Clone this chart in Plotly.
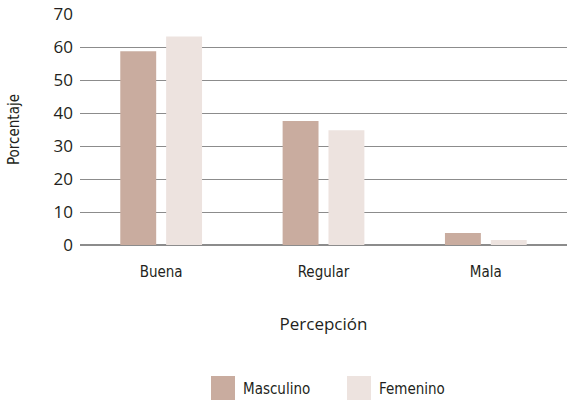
import plotly.graph_objects as go

categories = ["Buena", "Regular", "Mala"]
masculino = [58.7, 37.6, 3.6]
femenino = [63.2, 34.8, 1.5]
series_names = ["Masculino", "Femenino"]
colors = ["#C9AC9F", "#EDE3DF"]
y_ticks = [0, 10, 20, 30, 40, 50, 60, 70]

W, H = 567, 406
L, R, T, B = 80, 0, 14, 161

fig = go.Figure()
for name, vals, col in zip(series_names, [masculino, femenino], colors):
    fig.add_trace(go.Bar(x=categories, y=vals, name=name, marker_color=col,
                         marker_line_width=0, showlegend=False))

def px_x(px):
    return (px - L) / (W - L - R)

def px_y(py):
    return (H - B - py) / (H - T - B)

# Custom legend: square swatch plus label
legend_items = [(211, "Masculino", colors[0]), (347, "Femenino", colors[1])]
for x0, label, col in legend_items:
    fig.add_shape(type="rect", xref="paper", yref="paper",
                  x0=px_x(x0), x1=px_x(x0 + 24), y0=px_y(400), y1=px_y(376),
                  fillcolor=col, line_width=0)
    fig.add_annotation(xref="paper", yref="paper", x=px_x(x0 + 30), y=px_y(389),
                       text=label, showarrow=False, xanchor="left", yanchor="middle",
                       font=dict(family="DejaVu Sans Condensed", size=15, color="#231F20"))

fig.add_annotation(xref="paper", yref="paper", x=px_x(14), y=px_y(130),
                   text="Porcentaje", textangle=-90, showarrow=False,
                   xanchor="center", yanchor="middle",
                   font=dict(family="DejaVu Sans Condensed", size=15, color="#231F20"))

fig.update_layout(
    width=W, height=H,
    margin=dict(l=L, r=R, t=T, b=B),
    plot_bgcolor="white", paper_bgcolor="white",
    barmode="group", bargap=0.435, bargroupgap=0.217,
    font=dict(family="Open Sans", color="#231F20"),
    xaxis=dict(
        showgrid=False, showline=False, zeroline=False, ticks="",
        ticklabelstandoff=16,
        tickfont=dict(family="DejaVu Sans Condensed", size=15, color="#231F20"),
        title=dict(text="Percepción", font=dict(family="Open Sans", size=17, color="#231F20"),
                   standoff=38),
    ),
    yaxis=dict(
        range=[0, 70], tickvals=y_ticks, showgrid=True, gridcolor="#8C8C8C", gridwidth=1.3,
        zeroline=True, zerolinecolor="#8C8C8C", zerolinewidth=2, showline=False,
        ticks="", ticklabelstandoff=6,
        tickfont=dict(family="Open Sans", size=17, color="#231F20"),
    ),
)

fig.write_html("out.html")
